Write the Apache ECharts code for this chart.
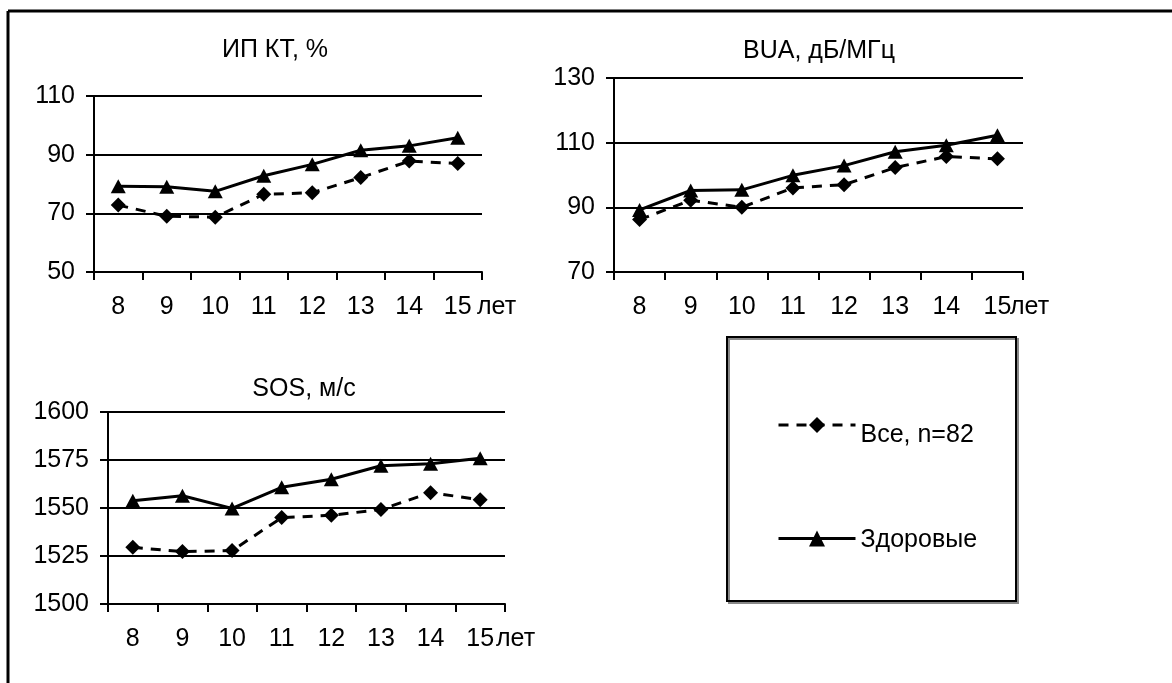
<!DOCTYPE html>
<html lang="ru">
<head>
  <meta charset="UTF-8">
  <title>ИП КТ, BUA, SOS</title>
  <script src="https://cdn.jsdelivr.net/npm/echarts@6/dist/echarts.min.js"></script>
  <style>
    html, body { margin: 0; padding: 0; background: #fff; }
  </style>
</head>
<body>
<div id="chart" style="width: 1172px; height: 683px"></div>
<script>
  // возраст, лет
  const ages = ['8', '9', '10', '11', '12', '13', '14', '15'];

  // ИП КТ, %
  const ipktAll = [72.8, 69.0, 68.7, 76.5, 77.0, 82.2, 87.8, 87.0];
  const ipktHealthy = [79.2, 79.1, 77.5, 82.8, 86.7, 91.5, 93.0, 95.8];

  // BUA, дБ/МГц
  const buaAll = [86.2, 92.2, 90.0, 96.0, 97.0, 102.3, 105.7, 105.0];
  const buaHealthy = [89.2, 95.2, 95.4, 99.9, 102.9, 107.2, 109.2, 112.3];

  // SOS, м/с
  const sosAll = [1529.5, 1527.3, 1527.8, 1545.0, 1546.2, 1549.2, 1558.0, 1554.3];
  const sosHealthy = [1553.8, 1556.4, 1549.8, 1560.8, 1565.0, 1572.0, 1573.0, 1575.9];

  const titles = ['ИП КТ, %', 'BUA, дБ/МГц', 'SOS, м/с'];
  const nameAll = 'Все, n=82';
  const nameHealthy = 'Здоровые';

  const font = "'Liberation Sans', Arial, sans-serif";
  const black = '#000';
  const fs = 25;

  function xAxis(gridIndex, nameGap) {
    return {
      type: 'category',
      gridIndex: gridIndex,
      data: ages,
      name: 'лет',
      nameLocation: 'end',
      nameGap: nameGap,
      nameMoveOverlap: false,
      nameTextStyle: {
        fontFamily: font, fontSize: fs, color: black,
        verticalAlign: 'top', padding: [23, 0, 0, 0]
      },
      axisLine: { lineStyle: { color: black, width: 2 } },
      axisTick: { show: true, length: 8, lineStyle: { color: black, width: 2 } },
      axisLabel: { fontFamily: font, fontSize: fs, color: black, margin: 23 },
      splitLine: { show: false }
    };
  }

  function yAxis(gridIndex, min, max, interval) {
    return {
      type: 'value',
      gridIndex: gridIndex,
      min: min,
      max: max,
      interval: interval,
      axisLine: { show: true, lineStyle: { color: black, width: 2 } },
      axisTick: { show: true, length: 8, lineStyle: { color: black, width: 2 } },
      axisLabel: { fontFamily: font, fontSize: fs, color: black, margin: 19,
        formatter: v => String(v) },
      splitLine: { lineStyle: { color: black, width: 2 } }
    };
  }

  function seriesAll(i, data) {
    return {
      name: nameAll,
      type: 'line',
      xAxisIndex: i,
      yAxisIndex: i,
      data: data,
      symbol: 'diamond',
      symbolSize: 15,
      itemStyle: { color: black },
      lineStyle: { color: black, width: 3, type: [10, 8] },
      z: 3
    };
  }

  function seriesHealthy(i, data) {
    return {
      name: nameHealthy,
      type: 'line',
      xAxisIndex: i,
      yAxisIndex: i,
      data: data,
      symbol: 'triangle',
      symbolSize: [15, 14],
      itemStyle: { color: black },
      lineStyle: { color: black, width: 3 },
      z: 4
    };
  }

  const titleStyle = { fontFamily: font, fontSize: fs, fontWeight: 'normal', color: black };

  const chart = echarts.init(document.getElementById('chart'));
  chart.setOption({
    animation: false,
    backgroundColor: '#fff',
    title: [
      { text: titles[0], left: 275, top: 38, textAlign: 'center', padding: 0, textStyle: titleStyle },
      { text: titles[1], left: 819, top: 39, textAlign: 'center', padding: 0, textStyle: titleStyle },
      { text: titles[2], left: 304, top: 377, textAlign: 'center', padding: 0, textStyle: titleStyle }
    ],
    legend: [
      { data: [nameAll], left: 777, top: 417, padding: 0, itemWidth: 77, itemHeight: 20,
        lineStyle: { width: 3 },
        formatter: name => '{a|' + name + '}',
        textStyle: { fontFamily: font, fontSize: fs, color: black,
          rich: { a: { fontFamily: font, fontSize: fs, color: black, padding: [20, 0, 0, 0] } } } },
      { data: [nameHealthy], left: 777, top: 528, padding: 0, itemWidth: 77, itemHeight: 20,
        lineStyle: { width: 3 },
        formatter: name => '{a|' + name + '}',
        textStyle: { fontFamily: font, fontSize: fs, color: black,
          rich: { a: { fontFamily: font, fontSize: fs, color: black, padding: [4, 0, 0, 0] } } } }
    ],
    grid: [
      { left: 94, right: 690, top: 96, bottom: 411 },
      { left: 614, right: 149, top: 78, bottom: 411 },
      { left: 108, right: 667, top: 412, bottom: 79 }
    ],
    xAxis: [xAxis(0, -5), xAxis(1, -13), xAxis(2, -9)],
    yAxis: [yAxis(0, 50, 110, 20), yAxis(1, 70, 130, 20), yAxis(2, 1500, 1600, 25)],
    series: [
      seriesAll(0, ipktAll), seriesHealthy(0, ipktHealthy),
      seriesAll(1, buaAll), seriesHealthy(1, buaHealthy),
      seriesAll(2, sosAll), seriesHealthy(2, sosHealthy)
    ],
    graphic: [
      // рамка рисунка
      { type: 'line', shape: { x1: 8, y1: 11, x2: 1172, y2: 11 }, style: { stroke: black, lineWidth: 3 } },
      { type: 'line', shape: { x1: 8, y1: 11, x2: 8, y2: 683 }, style: { stroke: black, lineWidth: 3 } },
      // рамка легенды
      { type: 'rect', shape: { x: 727, y: 337, width: 289, height: 264 }, z: -1,
        style: { fill: '#fff', stroke: black, lineWidth: 2,
          shadowColor: '#888', shadowOffsetX: 2, shadowOffsetY: 2, shadowBlur: 0 } }
    ]
  });
</script>
</body>
</html>
